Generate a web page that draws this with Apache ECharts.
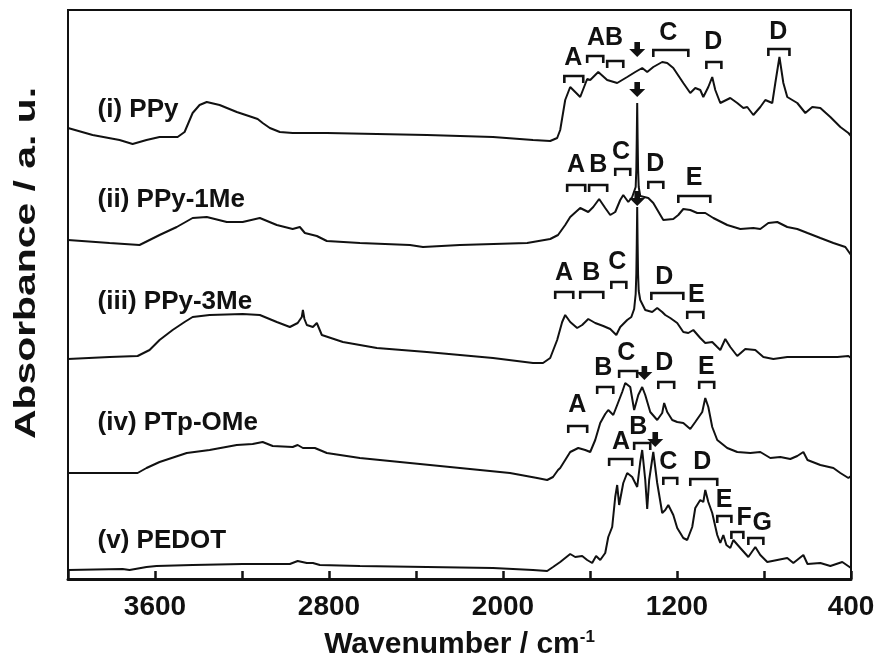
<!DOCTYPE html>
<html>
<head>
<meta charset="utf-8">
<script src="https://cdn.jsdelivr.net/npm/echarts@6/dist/echarts.min.js"></script>
<style>
  html, body { margin: 0; padding: 0; background: #fff; }
  #chart { width: 879px; height: 665px; }
</style>
</head>
<body>
<div id="chart"></div>
<script>
// FT-IR spectra, offset vertically: [wavenumber (cm-1), absorbance (a.u.)]
const ppy = [[4000,4.51],[3887,4.44],[3763,4.39],[3703,4.35],[3639,4.39],[3579,4.42],[3496,4.42],[3464,4.47],[3427,4.66],[3395,4.74],[3362,4.77],[3303,4.74],[3224,4.67],[3155,4.62],[3128,4.60],[3105,4.56],[3072,4.51],[3026,4.47],[2967,4.46],[2810,4.46],[2580,4.45],[2350,4.44],[2046,4.42],[1862,4.39],[1783,4.38],[1751,4.41],[1737,4.49],[1714,4.79],[1691,4.92],[1668,4.87],[1645,4.82],[1613,5.00],[1599,4.99],[1562,5.07],[1521,4.99],[1475,4.96],[1429,5.02],[1392,5.07],[1360,5.11],[1337,5.07],[1309,5.12],[1268,5.17],[1245,5.16],[1217,5.11],[1171,4.96],[1139,4.86],[1116,4.91],[1093,4.89],[1079,4.82],[1056,4.92],[1038,5.02],[1024,4.89],[1001,4.76],[955,4.81],[923,4.76],[895,4.71],[877,4.72],[849,4.64],[817,4.72],[794,4.79],[762,4.76],[748,4.96],[729,5.22],[711,4.96],[693,4.82],[647,4.76],[610,4.66],[578,4.72],[541,4.71],[495,4.62],[449,4.52],[412,4.46],[400,4.43]];

const ppy1Me = [[4000,3.39],[3809,3.36],[3671,3.34],[3579,3.44],[3500,3.52],[3427,3.61],[3362,3.62],[3270,3.57],[3197,3.57],[3118,3.61],[3040,3.54],[2967,3.50],[2934,3.52],[2911,3.46],[2856,3.43],[2810,3.38],[2658,3.36],[2428,3.34],[2368,3.32],[2198,3.34],[1889,3.36],[1783,3.40],[1747,3.44],[1714,3.54],[1691,3.62],[1645,3.71],[1608,3.67],[1585,3.72],[1558,3.80],[1530,3.71],[1507,3.64],[1484,3.67],[1461,3.79],[1447,3.84],[1424,3.77],[1406,3.82],[1397,3.84],[1390,3.92],[1387,4.10],[1385,4.40],[1383,4.76],[1381,4.40],[1379,4.10],[1376,3.92],[1369,3.83],[1360,3.81],[1332,3.81],[1309,3.76],[1263,3.59],[1217,3.60],[1194,3.64],[1171,3.70],[1139,3.69],[1107,3.66],[1070,3.66],[1033,3.61],[969,3.54],[909,3.50],[849,3.51],[817,3.50],[780,3.56],[739,3.57],[693,3.52],[647,3.50],[600,3.46],[541,3.41],[481,3.36],[426,3.32],[400,3.24]];

const ppy3Me = [[4000,2.20],[3809,2.22],[3680,2.23],[3625,2.29],[3579,2.39],[3519,2.49],[3464,2.57],[3427,2.62],[3349,2.64],[3197,2.65],[3118,2.64],[3040,2.57],[2980,2.52],[2944,2.56],[2925,2.62],[2920,2.69],[2913,2.60],[2902,2.54],[2874,2.52],[2856,2.56],[2833,2.44],[2736,2.37],[2580,2.31],[2350,2.27],[2198,2.24],[2046,2.21],[1862,2.16],[1816,2.16],[1783,2.21],[1751,2.39],[1728,2.57],[1714,2.64],[1691,2.57],[1659,2.51],[1636,2.54],[1608,2.60],[1576,2.56],[1539,2.53],[1507,2.50],[1479,2.44],[1461,2.52],[1429,2.59],[1410,2.62],[1397,2.70],[1390,2.85],[1387,3.05],[1385,3.35],[1383,3.72],[1381,3.35],[1379,3.05],[1376,2.88],[1369,2.79],[1346,2.69],[1314,2.67],[1291,2.71],[1268,2.67],[1254,2.64],[1231,2.61],[1199,2.56],[1171,2.47],[1148,2.46],[1125,2.49],[1093,2.41],[1070,2.36],[1038,2.37],[1015,2.32],[1001,2.29],[978,2.40],[955,2.32],[923,2.23],[886,2.30],[840,2.29],[803,2.22],[757,2.20],[693,2.22],[619,2.22],[541,2.22],[463,2.22],[412,2.23],[400,2.21]];

const ptpOMe = [[4000,1.06],[3680,1.06],[3639,1.11],[3579,1.17],[3454,1.26],[3349,1.29],[3224,1.34],[3151,1.35],[3105,1.37],[3059,1.33],[2967,1.32],[2944,1.34],[2920,1.31],[2865,1.31],[2810,1.26],[2658,1.21],[2428,1.16],[2198,1.11],[1968,1.06],[1843,1.01],[1797,0.99],[1770,1.02],[1747,1.09],[1737,1.11],[1691,1.27],[1654,1.31],[1622,1.29],[1599,1.27],[1576,1.39],[1553,1.56],[1530,1.65],[1516,1.69],[1493,1.64],[1475,1.74],[1452,1.87],[1438,1.96],[1429,1.98],[1415,1.92],[1397,1.69],[1378,1.84],[1360,1.92],[1346,1.84],[1323,1.67],[1291,1.59],[1268,1.66],[1259,1.76],[1245,1.67],[1222,1.59],[1199,1.57],[1171,1.56],[1139,1.50],[1116,1.57],[1084,1.67],[1070,1.81],[1056,1.72],[1038,1.52],[1015,1.39],[969,1.31],[923,1.27],[863,1.26],[817,1.27],[771,1.21],[725,1.22],[679,1.20],[647,1.23],[619,1.27],[600,1.19],[541,1.14],[481,1.11],[449,1.06],[412,1.01],[400,1.03]];

const pedot = [[4000,0.09],[3749,0.10],[3717,0.09],[3639,0.12],[3593,0.13],[3427,0.14],[3197,0.15],[2980,0.15],[2944,0.18],[2902,0.16],[2874,0.16],[2842,0.14],[2658,0.13],[2350,0.12],[2046,0.11],[1862,0.09],[1797,0.08],[1770,0.12],[1737,0.17],[1691,0.25],[1668,0.22],[1636,0.23],[1613,0.19],[1590,0.16],[1572,0.23],[1553,0.19],[1530,0.26],[1516,0.42],[1498,0.52],[1484,0.82],[1475,0.94],[1466,0.74],[1447,0.96],[1429,1.06],[1406,1.02],[1383,0.92],[1369,1.17],[1360,1.29],[1346,0.99],[1337,0.70],[1328,0.99],[1309,1.27],[1291,0.96],[1268,0.66],[1254,0.69],[1240,0.74],[1217,0.64],[1199,0.51],[1171,0.41],[1153,0.39],[1130,0.52],[1116,0.71],[1093,0.79],[1079,0.77],[1070,0.89],[1056,0.77],[1038,0.66],[1015,0.44],[1001,0.36],[987,0.44],[973,0.34],[955,0.31],[941,0.39],[909,0.31],[872,0.22],[840,0.32],[817,0.24],[785,0.17],[739,0.19],[693,0.21],[665,0.16],[619,0.24],[600,0.15],[541,0.16],[495,0.13],[440,0.17],[400,0.11]];

// Spectrum names placed left of each trace: [wavenumber, absorbance, text]
const traceNames = [[3864,4.69,'(i) PPy'],[3864,3.79,'(ii) PPy-1Me'],[3864,2.77,'(iii) PPy-3Me'],[3864,1.56,'(iv) PTp-OMe'],[3864,0.38,'(v) PEDOT']];

// Band assignment brackets: [from wavenumber, to wavenumber, absorbance]
const brackets = [
  [1718,1631,5.03],[1613,1539,5.23],[1521,1447,5.18],[1309,1148,5.29],[1065,996,5.17],[780,683,5.30],
  [1705,1622,3.94],[1604,1521,3.94],[1484,1415,4.10],[1332,1263,3.97],[1194,1047,3.83],
  [1760,1677,2.87],[1645,1539,2.87],[1502,1433,2.97],[1318,1171,2.86],[1153,1079,2.67],
  [1700,1613,1.53],[1567,1493,1.92],[1466,1383,2.08],[1286,1213,1.97],[1098,1029,1.97],
  [1512,1406,1.20],[1397,1323,1.36],[1263,1199,1.01],[1139,1015,1.00],[1015,950,0.63],[950,895,0.47],[872,803,0.41]
];

// Band letters: [wavenumber, absorbance, letter]
const bandLetters = [
  [1677,5.21,'A'],[1572,5.41,'A'],[1489,5.41,'B'],[1240,5.46,'C'],[1033,5.37,'D'],[734,5.47,'D'],
  [1664,4.14,'A'],[1562,4.14,'B'],[1457,4.27,'C'],[1300,4.15,'D'],[1121,4.01,'E'],
  [1719,3.06,'A'],[1594,3.06,'B'],[1475,3.17,'C'],[1259,3.02,'D'],[1111,2.84,'E'],
  [1659,1.74,'A'],[1539,2.11,'B'],[1433,2.26,'C'],[1259,2.16,'D'],[1065,2.12,'E'],
  [1457,1.37,'A'],[1378,1.52,'B'],[1240,1.17,'C'],[1084,1.17,'D'],[983,0.79,'E'],[891,0.61,'F'],[808,0.56,'G']
];

// Downward arrows: [wavenumber, absorbance at tail, absorbance at tip]
const arrows = [[1383,5.37,5.22],[1383,4.97,4.82],[1383,3.88,3.73],[1350,2.13,1.99],[1300,1.47,1.32]];

const FONT = '"Liberation Sans", Arial, sans-serif';
const INK = '#111';

const chart = echarts.init(document.getElementById('chart'), null, { renderer: 'canvas' });

function spectrum(name, data) {
  return {
    name, type: 'line', data, symbol: 'none', smooth: false, silent: true,
    lineStyle: { color: INK, width: 2 }, z: 3
  };
}

chart.setOption({
  animation: false,
  backgroundColor: '#fff',
  grid: { left: 68, right: 28, top: 10, bottom: 86, show: true, borderColor: INK, borderWidth: 2 },
  xAxis: {
    type: 'value', inverse: true, min: 400, max: 4000, interval: 400,
    splitLine: { show: false },
    axisLine: { show: true, lineStyle: { color: INK, width: 3 } },
    axisTick: { show: true, inside: true, length: 8, lineStyle: { color: INK, width: 2.5 } },
    axisLabel: {
      margin: 14, color: INK, fontFamily: FONT, fontWeight: 'bold', fontSize: 28,
      formatter: v => ((v - 400) % 800 === 0 ? String(v) : '')
    },
    name: 'Wavenumber / cm{sup|-1}',
    nameLocation: 'middle', nameGap: 50,
    nameTextStyle: {
      color: INK, fontFamily: FONT, fontWeight: 'bold', fontSize: 30,
      rich: { sup: { color: INK, fontFamily: FONT, fontWeight: 'bold', fontSize: 17, verticalAlign: 'top', padding: [0, 0, 14, 0] } }
    }
  },
  yAxis: {
    type: 'value', min: 0, max: 5.69,
    splitLine: { show: false }, axisTick: { show: false }, axisLabel: { show: false },
    axisLine: { show: false }
  },
  graphic: [{
    type: 'text', x: 27, y: 263, rotation: Math.PI / 2, scaleX: 1.41,
    style: { text: 'Absorbance / a. u.', font: 'bold 29px ' + FONT, fill: INK, align: 'center', verticalAlign: 'middle' }
  }],
  series: [
    spectrum('(i) PPy', ppy),
    spectrum('(ii) PPy-1Me', ppy1Me),
    spectrum('(iii) PPy-3Me', ppy3Me),
    spectrum('(iv) PTp-OMe', ptpOMe),
    spectrum('(v) PEDOT', pedot),
    {
      type: 'custom', silent: true, z: 4,
      data: brackets, encode: { x: [0, 1], y: 2 },
      renderItem(params, api) {
        const a = api.coord([api.value(0), api.value(2)]);
        const b = api.coord([api.value(1), api.value(2)]);
        const leg = 7;
        return {
          type: 'polyline',
          shape: { points: [[a[0], a[1] + leg], [a[0], a[1]], [b[0], b[1]], [b[0], b[1] + leg]] },
          style: { stroke: INK, lineWidth: 2.6, fill: null, lineJoin: 'miter' }
        };
      }
    },
    {
      type: 'custom', silent: true, z: 4,
      data: bandLetters.map(d => [d[0], d[1]]), encode: { x: 0, y: 1 },
      renderItem(params, api) {
        const p = api.coord([api.value(0), api.value(1)]);
        return {
          type: 'text', x: p[0], y: p[1],
          style: { text: bandLetters[params.dataIndex][2], font: 'bold 25px ' + FONT, fill: INK, align: 'center', verticalAlign: 'middle' }
        };
      }
    },
    {
      type: 'custom', silent: true, z: 5,
      data: arrows, encode: { x: 0, y: [1, 2] },
      renderItem(params, api) {
        const t = api.coord([api.value(0), api.value(1)]);
        const h = api.coord([api.value(0), api.value(2)]);
        const x = t[0], y0 = t[1], y1 = h[1];
        const headLen = 8, sw = 2.8, hw = 8;
        return {
          type: 'polygon',
          shape: { points: [[x - sw, y0], [x + sw, y0], [x + sw, y1 - headLen], [x + hw, y1 - headLen], [x, y1], [x - hw, y1 - headLen], [x - sw, y1 - headLen]] },
          style: { fill: INK }
        };
      }
    },
    {
      type: 'custom', silent: true, z: 4,
      data: traceNames.map(d => [d[0], d[1]]), encode: { x: 0, y: 1 },
      renderItem(params, api) {
        const p = api.coord([api.value(0), api.value(1)]);
        return {
          type: 'text', x: p[0], y: p[1],
          style: { text: traceNames[params.dataIndex][2], font: 'bold 26px ' + FONT, fill: INK, align: 'left', verticalAlign: 'middle' }
        };
      }
    }
  ]
});
</script>
</body>
</html>
